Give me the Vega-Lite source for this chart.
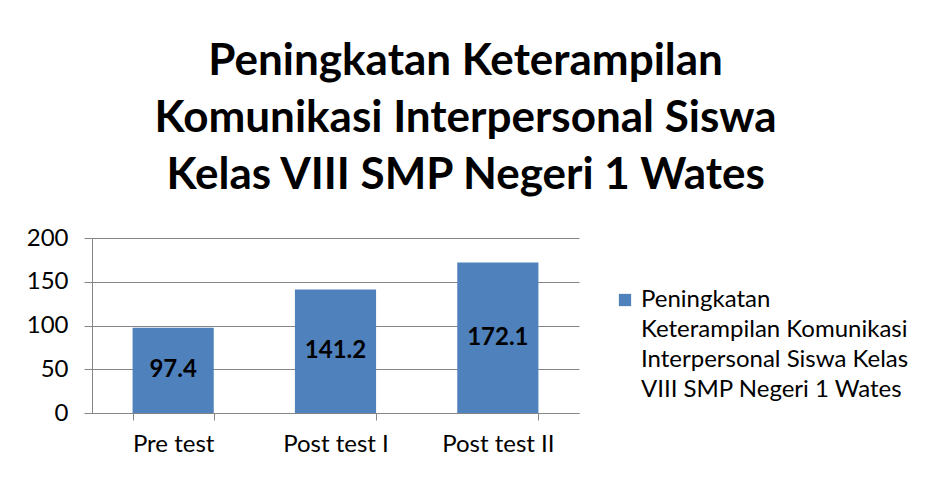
{
  "$schema": "https://vega.github.io/schema/vega-lite/v6.json",
  "width": 487,
  "height": 175,
  "padding": {"left": 26, "top": 40, "right": 10, "bottom": 10},
  "background": "white",
  "title": {
    "text": ["Peningkatan Keterampilan", "Komunikasi Interpersonal Siswa", "Kelas VIII SMP Negeri 1 Wates"],
    "font": "Lato",
    "fontSize": 44,
    "fontWeight": "bold",
    "color": "black",
    "lineHeight": 57,
    "anchor": "middle",
    "frame": "bounds",
    "dx": -27,
    "offset": 28
  },
  "data": {
    "values": [
      {"test": "Pre test", "nilai": 97.4, "seri": "Peningkatan Keterampilan Komunikasi Interpersonal Siswa Kelas VIII SMP Negeri 1 Wates"},
      {"test": "Post test I", "nilai": 141.2, "seri": "Peningkatan Keterampilan Komunikasi Interpersonal Siswa Kelas VIII SMP Negeri 1 Wates"},
      {"test": "Post test II", "nilai": 172.1, "seri": "Peningkatan Keterampilan Komunikasi Interpersonal Siswa Kelas VIII SMP Negeri 1 Wates"}
    ]
  },
  "encoding": {
    "x": {
      "field": "test", "type": "nominal", "sort": null, "title": null,
      "scale": {"paddingInner": 0.5, "paddingOuter": 0.25},
      "axis": {"labelAngle": 0, "tickBand": "extent", "tickSize": 7, "labelPadding": 12, "domainColor": "#868686", "tickColor": "#868686", "labelFont": "Lato", "labelFontSize": 24, "labelColor": "black"}
    }
  },
  "layer": [
    {
      "mark": {"type": "bar", "color": "#4F81BD"},
      "encoding": {
        "y": {
          "field": "nilai", "type": "quantitative", "title": null,
          "scale": {"domain": [0, 200]},
          "axis": {"values": [0, 50, 100, 150, 200], "tickSize": 8, "labelPadding": 16, "domainColor": "#868686", "tickColor": "#868686", "gridColor": "#868686", "labelFont": "Lato", "labelFontSize": 24, "labelColor": "black"}
        },
        "color": {
          "field": "seri", "type": "nominal", "scale": {"range": ["#4F81BD"]},
          "legend": {
            "title": null, "symbolType": "square", "symbolSize": 150, "symbolStrokeWidth": 0,
            "labelFont": "Lato", "labelFontSize": 24, "labelColor": "black", "labelLimit": 400,
            "labelExpr": "['Peningkatan', 'Keterampilan Komunikasi', 'Interpersonal Siswa Kelas', 'VIII SMP Negeri 1 Wates']",
            "padding": 50,
            "offset": -16
          }
        }
      }
    },
    {
      "mark": {"type": "text", "font": "Lato", "fontSize": 24, "fontWeight": "bold", "color": "black", "baseline": "middle"},
      "encoding": {
        "y": {"field": "nilai", "type": "quantitative", "title": null, "scale": {"domain": [0, 400]}, "axis": null},
        "text": {"field": "nilai", "type": "quantitative", "format": ".1f"}
      }
    }
  ],
  "resolve": {"scale": {"y": "independent"}},
  "config": {
    "view": {"stroke": null},
    "style": {"guide-label": {"lineHeight": 30}}
  }
}
